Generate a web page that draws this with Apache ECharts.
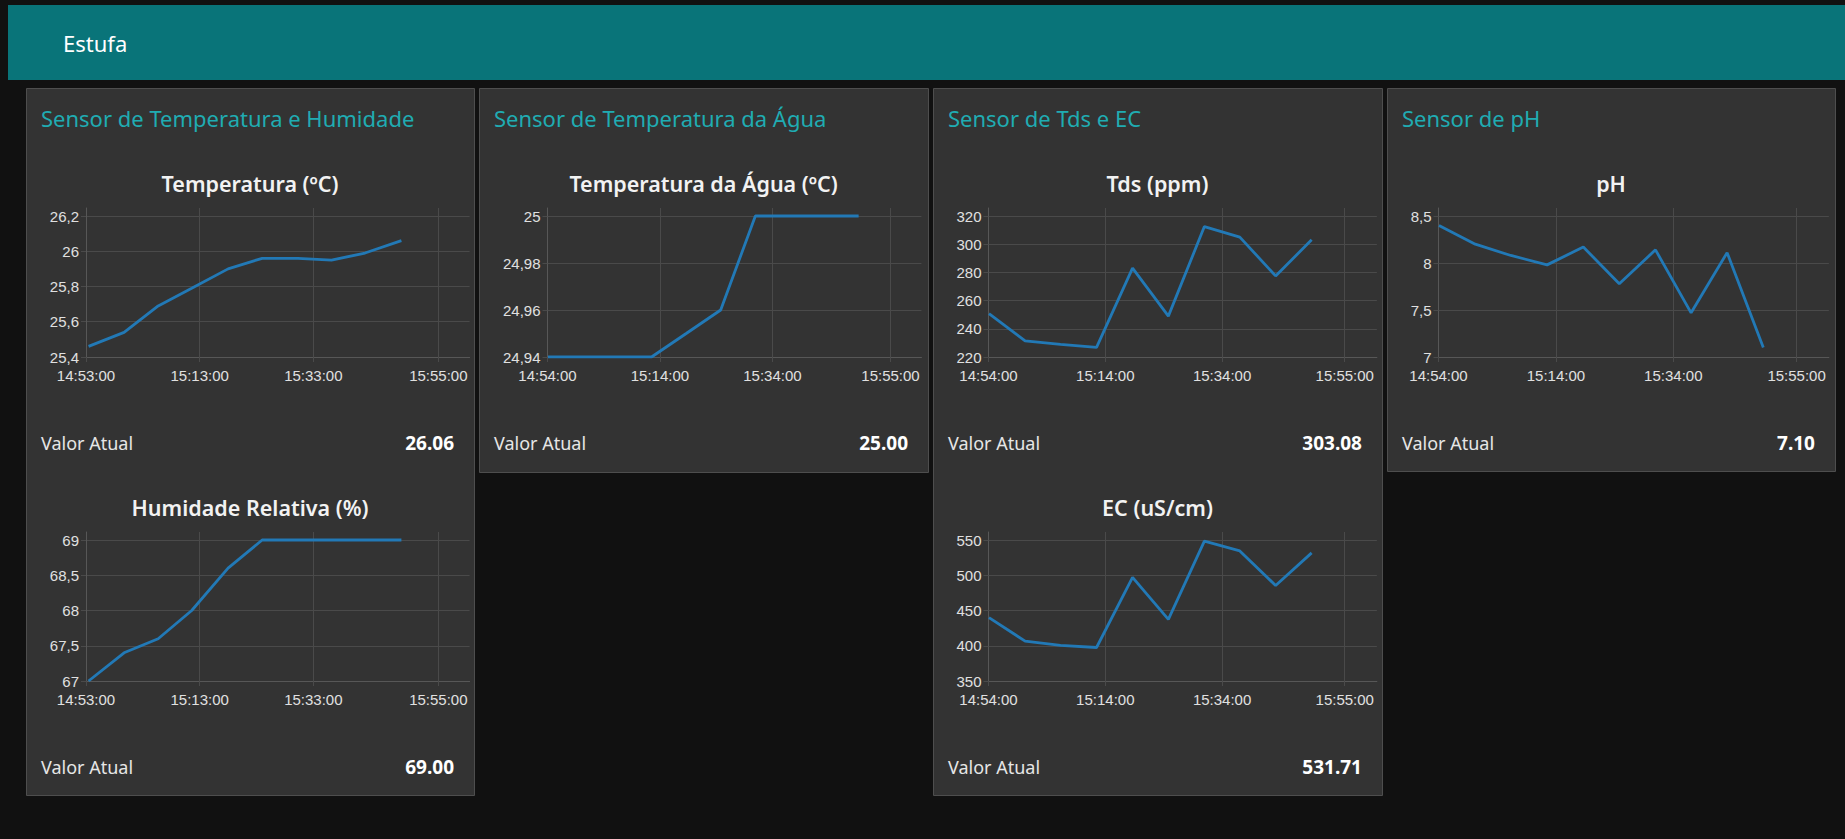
<!DOCTYPE html>
<html>
<head>
<meta charset="utf-8">
<title>Estufa</title>
<script src="https://cdn.jsdelivr.net/npm/echarts@6/dist/echarts.min.js"></script>
<style>
  html, body { margin: 0; padding: 0; background: #111111; }
  #painel { width: 1845px; height: 839px; }
</style>
</head>
<body>
<div id="painel"></div>
<script>
// ---- Leituras do sensor de ar (temperatura e humidade) ----
const horasAr     = ["14:53:27","14:59:42","15:05:42","15:11:36","15:18:00","15:24:00","15:30:18","15:36:12","15:42:06","15:48:30"];
const temperatura = [25.46, 25.54, 25.69, 25.79, 25.90, 25.96, 25.96, 25.95, 25.99, 26.06];
const humidade    = [67.0, 67.4, 67.6, 68.0, 68.6, 69.0, 69.0, 69.0, 69.0, 69.0];

// ---- Leituras da solução nutritiva (água, Tds, EC, pH) ----
const horasAgua = ["14:54:05","15:00:16","15:06:20","15:12:30","15:18:40","15:24:48","15:30:58","15:37:02","15:43:10","15:49:20"];
const tempAgua  = [24.94, 24.94, 24.94, 24.94, 24.95, 24.96, 25.00, 25.00, 25.00, 25.00];
const tds       = [250.8, 231.5, 229.0, 226.8, 283.0, 249.0, 312.5, 305.0, 277.5, 303.08];
const ec        = [440.0, 406.5, 400.5, 397.5, 497.0, 437.5, 548.5, 534.5, 485.5, 531.71];
const ph        = [8.40, 8.20, 8.08, 7.98, 8.17, 7.78, 8.14, 7.47, 8.11, 7.10];

// ---- Marcas dos eixos ----
const marcasHoraAr   = ["14:53:00","15:13:00","15:33:00","15:55:00"];
const marcasHoraAgua = ["14:54:00","15:14:00","15:34:00","15:55:00"];
const fimEixoHora    = "16:00:30";
const marcasTemp = [25.4, 25.6, 25.8, 26, 26.2];
const marcasHum  = [67, 67.5, 68, 68.5, 69];
const marcasAgua = [24.94, 24.96, 24.98, 25];
const marcasTds  = [220, 240, 260, 280, 300, 320];
const marcasEc   = [350, 400, 450, 500, 550];
const marcasPh   = [7, 7.5, 8, 8.5];

// ---- Aparência ----
const COR_TOPO = '#097479';
const COR_GRUPO = '#333333';
const COR_BORDA = '#4e4e4e';
const COR_TITULO_GRUPO = '#20acb2';
const COR_LINHA = '#2279b6';
const COR_GRELHA = '#4a4a4a';
const COR_EIXO = '#575757';
const COR_ROTULO = '#e0e0e0';
const FONTE_UI = '"Noto Sans", "Open Sans", sans-serif';
const FONTE_EIXO = '"Liberation Sans", Arial, sans-serif';

// horas convertidas em segundos desde a meia-noite
function paraSegundos(txt) {
  const [h, m, s] = txt.split(':').map(Number);
  return h * 3600 + m * 60 + s;
}
function dois(n) { return (n < 10 ? '0' : '') + n; }
function formataHora(v) {
  const t = Math.round(v);
  return dois(Math.floor(t / 3600)) + ':' + dois(Math.floor(t / 60) % 60) + ':' + dois(t % 60);
}
function formataNumero(v) { return String(+v.toFixed(4)).replace('.', ','); }

// Grupos do painel
const grupos = [
  { x: 26,   y: 88, w: 448, h: 707, titulo: 'Sensor de Temperatura e Humidade' },
  { x: 479,  y: 88, w: 449, h: 384, titulo: 'Sensor de Temperatura da Água' },
  { x: 933,  y: 88, w: 449, h: 707, titulo: 'Sensor de Tds e EC' },
  { x: 1387, y: 88, w: 448, h: 383, titulo: 'Sensor de pH' }
];

// Gráficos: grupo, linha dentro do grupo, eixo esquerdo e escala horizontal (px por minuto)
const graficos = [
  { grupo: 0, linha: 0, nome: 'Temperatura (ºC)',         horas: horasAr,   valores: temperatura, mx: marcasHoraAr,   my: marcasTemp, esq: 86,     ppm: 5.683 },
  { grupo: 0, linha: 1, nome: 'Humidade Relativa (%)',    horas: horasAr,   valores: humidade,    mx: marcasHoraAr,   my: marcasHum,  esq: 86,     ppm: 5.683 },
  { grupo: 1, linha: 0, nome: 'Temperatura da Água (ºC)', horas: horasAgua, valores: tempAgua,    mx: marcasHoraAgua, my: marcasAgua, esq: 547.5,  ppm: 5.623 },
  { grupo: 2, linha: 0, nome: 'Tds (ppm)',                horas: horasAgua, valores: tds,         mx: marcasHoraAgua, my: marcasTds,  esq: 988.5,  ppm: 5.84 },
  { grupo: 2, linha: 1, nome: 'EC (uS/cm)',               horas: horasAgua, valores: ec,          mx: marcasHoraAgua, my: marcasEc,   esq: 988.5,  ppm: 5.84 },
  { grupo: 3, linha: 0, nome: 'pH',                       horas: horasAgua, valores: ph,          mx: marcasHoraAgua, my: marcasPh,   esq: 1438.5, ppm: 5.87 }
];

const PASSO_LINHA = 324;   // distância vertical entre gráficos do mesmo grupo
const TOPO_GRELHA = 208;
const ALTURA_GRELHA = 149;
const FOLGA_TOPO = 8;      // espaço acima da última marca do eixo Y

const graphic = [];
// barra de topo
graphic.push({ type: 'rect', shape: { x: 8, y: 5, width: 1837, height: 75 }, style: { fill: COR_TOPO }, silent: true });
graphic.push({ type: 'text', x: 63, y: 43, style: { text: 'Estufa', fill: '#ffffff', font: '22px ' + FONTE_UI, textAlign: 'left', align: 'left', textVerticalAlign: 'middle', verticalAlign: 'middle' }, silent: true });

grupos.forEach(g => {
  graphic.push({ type: 'rect', shape: { x: g.x + 0.5, y: g.y + 0.5, width: g.w, height: g.h }, style: { fill: COR_GRUPO, stroke: COR_BORDA, lineWidth: 1 }, silent: true, z: 0 });
  graphic.push({ type: 'text', x: g.x + 15, y: 117.5, style: { text: g.titulo, fill: COR_TITULO_GRUPO, font: '22px ' + FONTE_UI, textAlign: 'left', align: 'left', textVerticalAlign: 'middle', verticalAlign: 'middle' }, silent: true });
});

const grid = [], xAxis = [], yAxis = [], series = [];

graficos.forEach((c, i) => {
  const g = grupos[c.grupo];
  const dy = c.linha * PASSO_LINHA;
  const xMin = paraSegundos(c.mx[0]);
  const xMax = paraSegundos(fimEixoHora);
  const largura = (xMax - xMin) / 60 * c.ppm;

  // título do gráfico e valor atual
  graphic.push({ type: 'text', x: g.x + g.w / 2, y: 183 + dy, style: { text: c.nome, fill: '#f2f2f2', font: '600 21.5px ' + FONTE_UI, textAlign: 'center', align: 'center', textVerticalAlign: 'middle', verticalAlign: 'middle' }, silent: true });
  graphic.push({ type: 'text', x: g.x + 15, y: 443 + dy, style: { text: 'Valor Atual', fill: '#e6e6e6', font: '18px ' + FONTE_UI, textAlign: 'left', align: 'left', textVerticalAlign: 'middle', verticalAlign: 'middle' }, silent: true });
  graphic.push({ type: 'text', x: g.x + g.w - 20, y: 443 + dy, style: { text: c.valores[c.valores.length - 1].toFixed(2), fill: '#ffffff', font: 'bold 19px ' + FONTE_UI, textAlign: 'right', align: 'right', textVerticalAlign: 'middle', verticalAlign: 'middle' }, silent: true });

  grid.push({ left: c.esq, top: TOPO_GRELHA + dy, width: largura, height: ALTURA_GRELHA, outerBoundsMode: 'none', containLabel: false });

  const tx = c.mx.map(paraSegundos);
  xAxis.push({
    type: 'value', gridIndex: i, min: xMin, max: xMax,
    axisLine: { show: true, lineStyle: { color: COR_EIXO, width: 1 } },
    axisTick: { show: true, length: 5, customValues: tx, lineStyle: { color: COR_GRELHA } },
    axisLabel: { customValues: tx, formatter: formataHora, color: COR_ROTULO, fontFamily: FONTE_EIXO, fontSize: 15, margin: 11, hideOverlap: false, showMinLabel: true, showMaxLabel: true },
    splitLine: { show: true, lineStyle: { color: COR_GRELHA, width: 1 } }
  });

  const lo = c.my[0], hi = c.my[c.my.length - 1];
  const yMax = hi + (hi - lo) * FOLGA_TOPO / (ALTURA_GRELHA - FOLGA_TOPO);
  yAxis.push({
    type: 'value', gridIndex: i, min: lo, max: yMax,
    axisLine: { show: true, lineStyle: { color: COR_EIXO, width: 1 } },
    axisTick: { show: true, length: 5, customValues: c.my, lineStyle: { color: COR_GRELHA } },
    axisLabel: { customValues: c.my, formatter: formataNumero, color: COR_ROTULO, fontFamily: FONTE_EIXO, fontSize: 15, margin: 7 },
    splitLine: { show: true, lineStyle: { color: COR_GRELHA, width: 1 } }
  });

  series.push({
    type: 'line', name: c.nome, xAxisIndex: i, yAxisIndex: i,
    data: c.horas.map((h, k) => [paraSegundos(h), c.valores[k]]),
    showSymbol: false, symbol: 'none', smooth: false,
    lineStyle: { color: COR_LINHA, width: 2.8 }, itemStyle: { color: COR_LINHA },
    silent: true, z: 3
  });
});

const chart = echarts.init(document.getElementById('painel'), null, { renderer: 'svg', width: 1845, height: 839 });
chart.setOption({
  backgroundColor: '#111111',
  animation: false,
  tooltip: { show: false },
  graphic: { elements: graphic },
  grid, xAxis, yAxis, series
});
</script>
</body>
</html>
